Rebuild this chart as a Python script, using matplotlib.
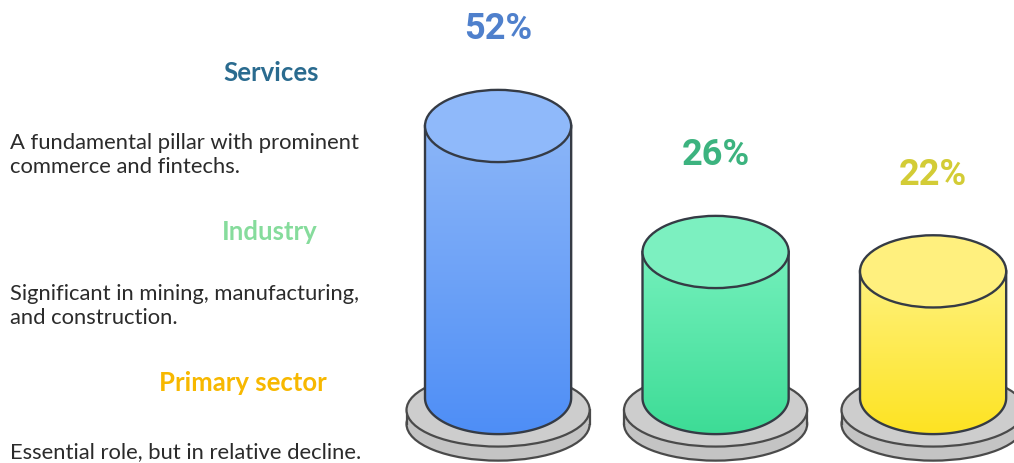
import numpy as np
import matplotlib.pyplot as plt
from matplotlib.patches import Ellipse, Polygon, Rectangle
from matplotlib.colors import LinearSegmentedColormap

# sector shares (%)
sectors = ["Services", "Industry", "Primary sector"]
shares = [52, 26, 22]
descriptions = [
    "A fundamental pillar with prominent\ncommerce and fintechs.",
    "Significant in mining, manufacturing,\nand construction.",
    "Essential role, but in relative decline.",
]
heading_colors = ["#2a6b8f", "#86dc9c", "#f7b800"]
label_colors = ["#4f80cc", "#3cb37f", "#d3cc36"]
top_colors = ["#8fb9fa", "#7cf0c0", "#fff07e"]
grad_colors = [("#8cb6f8", "#4e8ef6"), ("#74f0bc", "#3ddc96"), ("#fff27e", "#fde322")]

edge = "#353b45"
cyl_w = 0.672      # cylinder width (x units)
ell_h = 14.9       # ellipse height (y units)
cyl_bottom = -4.13
disk_w = 0.842
disk_h = 15.1
disk_top = -6.6
disk_thick = 2.9

fig = plt.figure(figsize=(10.14, 4.64), dpi=100)
fig.patch.set_facecolor("white")
ax = fig.add_axes([0, 0, 1, 1])
ax.set_xlim(-2.29, 2.372)
ax.set_ylim(-17.54, 78.2)
ax.axis("off")

x = np.arange(len(shares))

for i, (xc, v) in enumerate(zip(x, shares)):
    # grey base disk
    ax.add_patch(Ellipse((xc, disk_top - disk_thick), disk_w, disk_h,
                         facecolor="#c4c4c4", edgecolor="#4a4a4a", lw=1.6, zorder=1))
    ax.add_patch(Rectangle((xc - disk_w / 2, disk_top - disk_thick), disk_w, disk_thick,
                           facecolor="#c4c4c4", edgecolor="none", zorder=1.1))
    ax.plot([xc - disk_w / 2] * 2, [disk_top - disk_thick, disk_top], color="#4a4a4a", lw=1.6, zorder=1.2)
    ax.plot([xc + disk_w / 2] * 2, [disk_top - disk_thick, disk_top], color="#4a4a4a", lw=1.6, zorder=1.2)
    ax.add_patch(Ellipse((xc, disk_top), disk_w, disk_h,
                         facecolor="#cdcdcd", edgecolor="#4a4a4a", lw=1.6, zorder=1.3))

    # cylinder body: sides plus lower half of the bottom ellipse
    t = np.linspace(np.pi, 2 * np.pi, 80)
    arc_x = xc + cyl_w / 2 * np.cos(t)
    arc_y = cyl_bottom + ell_h / 2 * np.sin(t)
    verts = np.column_stack([
        np.concatenate([[xc - cyl_w / 2], arc_x, [xc + cyl_w / 2]]),
        np.concatenate([[v], arc_y, [v]]),
    ])
    body = Polygon(verts, closed=True, facecolor="none", edgecolor=edge, lw=1.7, zorder=3)
    ax.add_patch(body)
    cmap = LinearSegmentedColormap.from_list(f"g{i}", [grad_colors[i][1], grad_colors[i][0]])
    grad = np.linspace(0, 1, 256).reshape(-1, 1)
    img = ax.imshow(grad, cmap=cmap, origin="lower", aspect="auto",
                    extent=(xc - cyl_w / 2, xc + cyl_w / 2, cyl_bottom - ell_h / 2, v),
                    zorder=2)
    img.set_clip_path(body)

    # top face
    ax.add_patch(Ellipse((xc, v), cyl_w, ell_h, facecolor=top_colors[i],
                         edgecolor=edge, lw=1.7, zorder=4))

    # value label
    ax.text(xc, v + ell_h / 2 + 12.7, f"{v}%", ha="center", va="center",
            fontsize=26, fontweight="bold", family="Roboto", color=label_colors[i])

# left-hand text column
head_x = [223, 222, 159]
head_y = [73, 232, 383]
desc_y = [155, 306, 452]
for name, c, hx, hy, desc, dy in zip(sectors, heading_colors, head_x, head_y, descriptions, desc_y):
    fig.text(hx / 1014, 1 - hy / 464, name, ha="left", va="center",
             fontsize=18.5, fontweight="bold", family="Lato", color=c)
    fig.text(10 / 1014, 1 - dy / 464, desc, ha="left", va="center",
             fontsize=15.8, family="Lato", color="#2b2b2b", linespacing=1.3)

fig.savefig("out.png", dpi=100, facecolor="white")
